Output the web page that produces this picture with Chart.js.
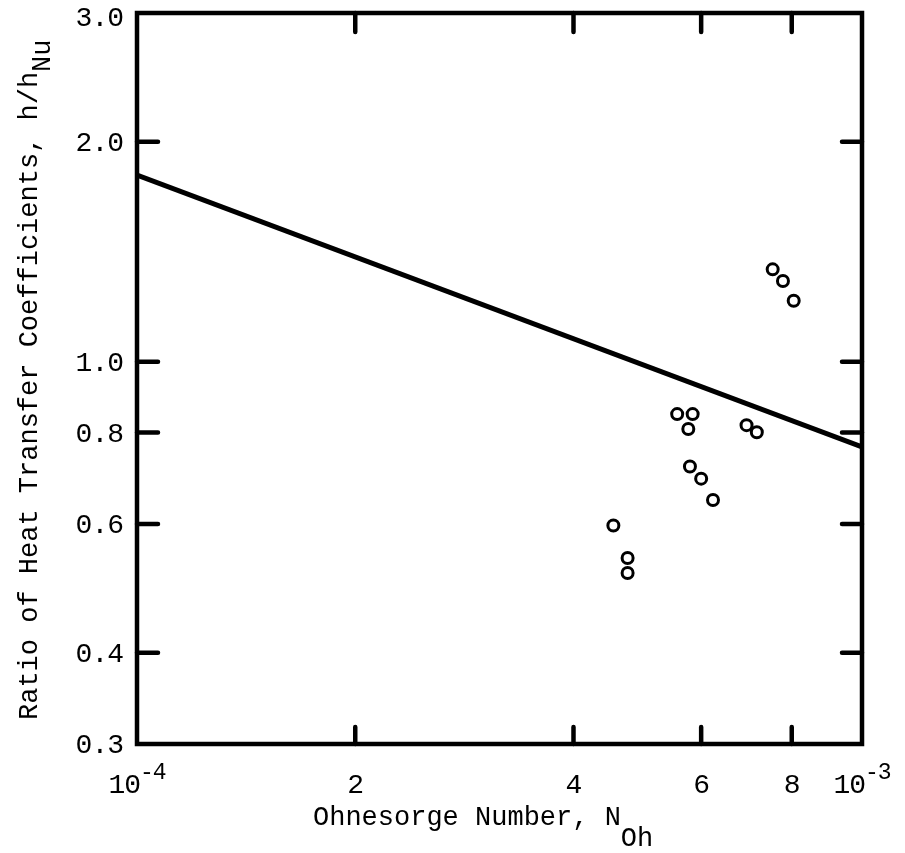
<!DOCTYPE html>
<html>
<head>
<meta charset="utf-8">
<script src="https://cdn.jsdelivr.net/npm/chart.js@4"></script>
<style>
  body { margin: 0; background: #fff; }
  #wrap { width: 905px; height: 853px; }
</style>
</head>
<body>
<div id="wrap"><canvas id="chart" width="905" height="853"></canvas></div>
<script>
// data
const ohnesorge = [7.53e-4, 7.78e-4, 8.05e-4, 5.56e-4, 5.84e-4, 5.76e-4, 6.93e-4, 7.16e-4, 5.79e-4, 6.00e-4, 6.23e-4, 4.54e-4, 4.75e-4, 4.75e-4];
const ratio = [1.338, 1.290, 1.212, 0.848, 0.848, 0.809, 0.819, 0.801, 0.719, 0.692, 0.647, 0.597, 0.539, 0.514];

// correlation line (ends)
const lineX = [1e-4, 1e-3];
const lineY = [1.80, 0.765];

// axis ticks
const xTickValues = [1e-4, 2e-4, 4e-4, 6e-4, 8e-4, 1e-3];
const xTickLabels = ['10', '2', '4', '6', '8', '10'];
const xTickExps = ['-4', '', '', '', '', '-3'];
const yTickValues = [0.3, 0.4, 0.6, 0.8, 1.0, 2.0, 3.0];
const yTickLabels = ['0.3', '0.4', '0.6', '0.8', '1.0', '2.0', '3.0'];

const FONT = '"Liberation Mono", "DejaVu Sans Mono", monospace';

// frame, inside ticks, tick labels and axis titles
const framePlugin = {
    id: 'frame',
    afterDraw(chart) {
        const ctx = chart.ctx;
        const a = chart.chartArea;
        const xs = chart.scales.x, ys = chart.scales.y;
        ctx.save();
        ctx.strokeStyle = '#000';
        ctx.lineWidth = 4.5;
        ctx.lineCap = 'round';
        ctx.strokeRect(a.left, a.top, a.right - a.left, a.bottom - a.top);

        // ticks pointing inward
        xTickValues.slice(1, -1).forEach(v => {
            const px = xs.getPixelForValue(v);
            ctx.beginPath();
            ctx.moveTo(px, a.bottom); ctx.lineTo(px, a.bottom - 17);
            ctx.moveTo(px, a.top); ctx.lineTo(px, a.top + 19);
            ctx.stroke();
        });
        yTickValues.slice(1, -1).forEach(v => {
            const py = ys.getPixelForValue(v);
            ctx.beginPath();
            ctx.moveTo(a.left, py); ctx.lineTo(a.left + 21, py);
            ctx.moveTo(a.right, py); ctx.lineTo(a.right - 20, py);
            ctx.stroke();
        });

        ctx.fillStyle = '#000';

        // y tick labels
        ctx.font = '28px ' + FONT;
        ctx.letterSpacing = '-1px';
        ctx.textAlign = 'right';
        ctx.textBaseline = 'middle';
        yTickValues.forEach((v, i) => {
            let py = ys.getPixelForValue(v);
            if (i === yTickValues.length - 1) py += 4;
            ctx.fillText(yTickLabels[i], 123, py + 2);
        });

        // x tick labels with exponents
        ctx.textBaseline = 'alphabetic';
        ctx.textAlign = 'left';
        const base = 793;
        xTickValues.forEach((v, i) => {
            const px = xs.getPixelForValue(v);
            ctx.font = '28px ' + FONT;
            const w1 = ctx.measureText(xTickLabels[i]).width;
            ctx.font = '23px ' + FONT;
            const w2 = xTickExps[i] ? ctx.measureText(xTickExps[i]).width : 0;
            const x0 = px - (w1 + w2) / 2;
            ctx.font = '28px ' + FONT;
            ctx.fillText(xTickLabels[i], x0, base);
            if (xTickExps[i]) {
                ctx.font = '23px ' + FONT;
                ctx.fillText(xTickExps[i], x0 + w1, base - 14);
            }
        });
        ctx.letterSpacing = '0px';

        // x title
        ctx.font = '27px ' + FONT;
        const t1 = 'Ohnesorge Number, N';
        ctx.fillText(t1, 313, 825);
        const tw = ctx.measureText(t1).width;
        ctx.fillText('Oh', 313 + tw, 846);

        // y title
        ctx.translate(37, 720);
        ctx.rotate(-Math.PI / 2);
        const t2 = 'Ratio of Heat Transfer Coefficients, h/h';
        ctx.fillText(t2, 0, 0);
        const tw2 = ctx.measureText(t2).width;
        ctx.fillText('Nu', tw2, 13);
        ctx.restore();
    }
};

const ctx = document.getElementById('chart').getContext('2d');
const chart = new Chart(ctx, {
    type: 'scatter',
    data: {
        datasets: [{
            label: 'data',
            data: ohnesorge.map((x, i) => ({ x: x, y: ratio[i] })),
            pointStyle: 'circle',
            pointRadius: 5.5,
            pointBorderWidth: 3,
            pointBackgroundColor: 'rgba(255,255,255,0)',
            pointBorderColor: '#000',
            showLine: false
        }, {
            label: 'correlation',
            data: lineX.map((x, i) => ({ x: x, y: lineY[i] })),
            showLine: true,
            borderColor: '#000',
            borderWidth: 5,
            pointRadius: 0
        }]
    },
    options: {
        responsive: false,
        animation: false,
        layout: { padding: { top: 13, right: 43, left: 0, bottom: 0 } },
        plugins: {
            legend: { display: false },
            tooltip: { enabled: false }
        },
        scales: {
            x: {
                type: 'logarithmic',
                min: 1e-4,
                max: 1e-3,
                afterBuildTicks: s => { s.ticks = xTickValues.map(v => ({ value: v })); },
                afterFit: s => { s.height = 109; },
                grid: { display: false },
                border: { display: false },
                ticks: { display: false }
            },
            y: {
                type: 'logarithmic',
                min: 0.3,
                max: 3.0,
                afterBuildTicks: s => { s.ticks = yTickValues.map(v => ({ value: v })); },
                afterFit: s => { s.width = 137; },
                grid: { display: false },
                border: { display: false },
                ticks: { display: false }
            }
        }
    },
    plugins: [framePlugin]
});
</script>
</body>
</html>
